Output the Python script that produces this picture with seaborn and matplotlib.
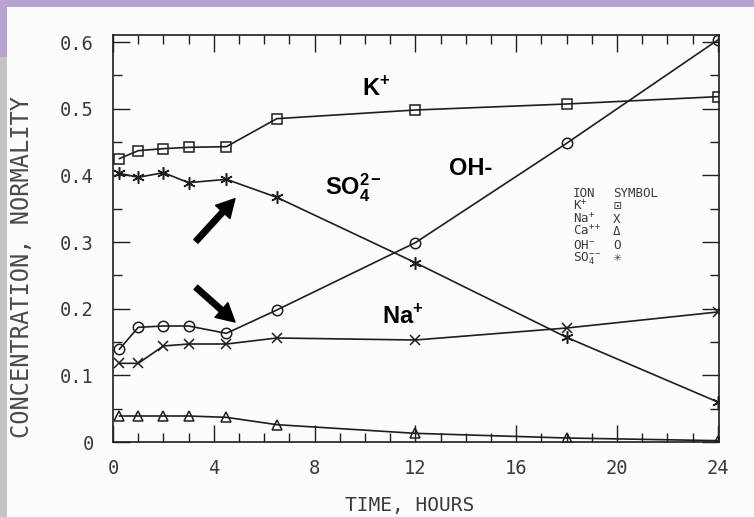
import matplotlib
matplotlib.use("Agg")
import matplotlib.pyplot as plt
import seaborn as sns
import pandas as pd
from matplotlib.patches import Rectangle

# ---------------- data ----------------
time_h = [0.25, 1, 2, 3, 4.5, 6.5, 12, 18, 24]
k_plus = [0.425, 0.437, 0.440, 0.442, 0.443, 0.485, 0.498, 0.507, 0.518]
na_plus = [0.118, 0.118, 0.144, 0.147, 0.147, 0.156, 0.153, 0.171, 0.195]
ca_plus = [0.039, 0.039, 0.039, 0.039, 0.037, 0.026, 0.013, 0.006, 0.002]
oh_minus = [0.139, 0.172, 0.174, 0.174, 0.163, 0.198, 0.299, 0.448, 0.603]
so4 = [0.403, 0.397, 0.404, 0.389, 0.394, 0.367, 0.269, 0.157, 0.060]

ions = ["K+", "Na+", "Ca++", "OH-", "SO4--"]
legend_labels = [r"K$^{+}$", r"Na$^{+}$", r"Ca$^{++}$", r"OH$^{-}$", r"SO$_{4}^{--}$"]
legend_symbols = ["\u22a1", "X", "\u0394", "O", "\u2733"]

x_ticks = [0, 4, 8, 12, 16, 20, 24]
x_tick_labels = ["0", "4", "8", "12", "16", "20", "24"]
y_ticks = [0, 0.1, 0.2, 0.3, 0.4, 0.5, 0.6]
y_tick_labels = ["0", "0.1", "0.2", "0.3", "0.4", "0.5", "0.6"]

x_title = "TIME, HOURS"
y_title = "CONCENTRATION, NORMALITY"

# ---------------- style ----------------
sns.set_theme(style="ticks")
plt.rcParams["font.family"] = ["DejaVu Sans Mono", "DejaVu Sans"]
plt.rcParams["mathtext.fontset"] = "custom"
plt.rcParams["mathtext.rm"] = "DejaVu Sans Mono"
plt.rcParams["mathtext.it"] = "DejaVu Sans Mono"
plt.rcParams["mathtext.bf"] = "Liberation Sans:bold"

INK = "#1e1e1e"
TXT = "#3a3a3a"
PAPER = "#fcfcfc"

fig = plt.figure(figsize=(7.54, 5.17), dpi=100, facecolor=PAPER)
ax = fig.add_axes([113 / 754, 75 / 517, 606 / 754, 407 / 517])
ax.set_facecolor(PAPER)

# frame decoration (slide background)
fig.add_artist(Rectangle((0, 1 - 7 / 517), 1, 7 / 517, transform=fig.transFigure,
                         color="#b8a4cf", zorder=0, lw=0))
fig.add_artist(Rectangle((0, 1 - 57 / 517), 7 / 754, 57 / 517, transform=fig.transFigure,
                         color="#b8a4cf", zorder=0, lw=0))
fig.add_artist(Rectangle((0, 0), 7 / 754, 1 - 57 / 517, transform=fig.transFigure,
                         color="#c4c4c4", zorder=0, lw=0))

series = [k_plus, na_plus, ca_plus, oh_minus, so4]
markers = ["s", "x", "^", "o", (6, 2, 0)]
msizes = [7.5, 7.5, 7.5, 7.5, 9]

for name, vals, mk, ms in zip(ions, series, markers, msizes):
    df = pd.DataFrame({"time": time_h, "conc": vals})
    sns.lineplot(data=df, x="time", y="conc", ax=ax, color=INK, lw=1.2,
                 marker=mk, markersize=ms, markerfacecolor="none",
                 markeredgecolor=INK, markeredgewidth=1.1, legend=False)

ax.set_xlim(0, 24.05)
ax.set_ylim(0, 0.6105)
ax.set_xticks(x_ticks, x_tick_labels)
ax.set_yticks(y_ticks, y_tick_labels)
ax.set_xticks([i for i in range(25)], minor=True)
ax.set_yticks([0.05, 0.15, 0.25, 0.35, 0.45, 0.55], minor=True)

for s in ax.spines.values():
    s.set_color(INK)
    s.set_linewidth(1.2)

ax.tick_params(which="both", direction="in", top=True, right=True,
               labeltop=False, labelright=False, color=INK, width=1.0)
ax.tick_params(which="major", length=12, labelsize=13.5, labelcolor=TXT)
ax.tick_params(axis="y", which="major", pad=14)
ax.tick_params(axis="x", which="major", pad=12)
ax.tick_params(which="minor", length=6.5)

ax.set_xlabel(x_title, fontsize=14, color=TXT)
ax.set_ylabel(y_title, fontsize=17, color="#4a4a4a")
ax.xaxis.set_label_coords(0.49, -0.133)
ax.yaxis.set_label_coords(-0.13, 0.43)

# ---------------- annotations ----------------
lab_kw = dict(fontsize=17, fontweight="bold", family="Liberation Sans",
              color="black", va="baseline", ha="left")
ax.text(9.88, 0.519, r"K$^{\mathbf{+}}$", **lab_kw)
ax.text(8.41, 0.371, r"SO$_{\mathbf{4}}^{\mathbf{2-}}$", **lab_kw)
ax.text(13.33, 0.400, "OH-", **lab_kw)
ax.text(10.67, 0.178, r"Na$^{\mathbf{+}}$", **lab_kw)

arrow_kw = dict(arrowstyle="simple,head_width=0.7,head_length=0.65,tail_width=0.2",
                mutation_scale=20, color="black", shrinkA=0, shrinkB=0)
ax.annotate("", xy=(4.84, 0.365), xytext=(3.29, 0.301), arrowprops=arrow_kw)
ax.annotate("", xy=(4.84, 0.180), xytext=(3.29, 0.232), arrowprops=arrow_kw)

# ---------------- symbol table (legend) ----------------
leg_kw = dict(fontsize=9, color=TXT, va="baseline")
ax.text(18.25, 0.368, "ION", ha="left", **leg_kw)
ax.text(19.84, 0.368, "SYMBOL", ha="left", **leg_kw)
row_y = [0.348, 0.329, 0.310, 0.290, 0.271]
for lab, sym, yy in zip(legend_labels, legend_symbols, row_y):
    ax.text(18.25, yy, lab, ha="left", **leg_kw)
    ax.text(20.0, yy, sym, ha="center", family=["DejaVu Sans Mono", "DejaVu Sans"], **leg_kw)

fig.savefig("out.png", dpi=100, facecolor=PAPER)
